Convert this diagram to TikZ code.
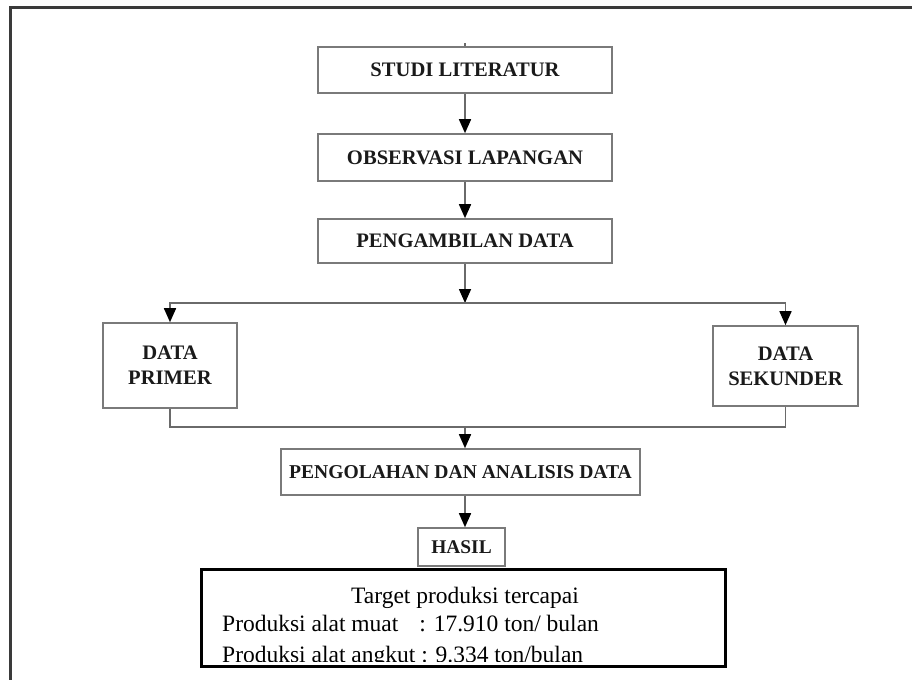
\documentclass[tikz,border=0pt]{standalone}
\usepackage{fontspec}
\setmainfont{Liberation Serif}
\usetikzlibrary{arrows.meta}
\definecolor{linegray}{HTML}{6A6A6A}
\definecolor{boxgray}{HTML}{7A7A7A}
\definecolor{framegray}{HTML}{3A3A3A}
\definecolor{txt}{HTML}{1A1A1A}
\tikzset{
  stepbox/.style={draw=boxgray, line width=1.6pt, rectangle, inner sep=0pt, text=txt,
    font=\fontsize{20.6}{25}\selectfont\bfseries, align=center},
  conn/.style={draw=linegray, line width=1.6pt},
  arr/.style={conn, -{Triangle[length=14pt,width=12pt,color=black]}},
  frameline/.style={draw=framegray, line width=3pt},
  resbox/.style={draw=black, line width=3pt, rectangle, inner sep=0pt},
  restext/.style={font=\fontsize{23.5}{28.5}\selectfont, text=black, inner sep=0pt}
}
\begin{document}
\begin{tikzpicture}[x=1pt,y=-1pt]
\useasboundingbox (0,0) rectangle (912,680);
\fill[white] (0,0) rectangle (912,680);
% outer frame (top and left edges visible)
\coordinate (fr1) at (912,7);
\coordinate (fr2) at (10,7);
\coordinate (fr3) at (10,680);
\draw[frameline] (fr1) -- (fr2) -- (fr3);

\coordinate (spine) at (465,0);

\node[stepbox, minimum width=294pt, minimum height=46pt] (s1) at (465,70) {STUDI LITERATUR};
\node[stepbox, minimum width=294pt, minimum height=47pt] (s2) at (465,157.5) {OBSERVASI LAPANGAN};
\node[stepbox, minimum width=294pt, minimum height=44pt] (s3) at (465,241) {PENGAMBILAN DATA};
\node[stepbox, minimum width=134pt, minimum height=85pt] (p) at (170,365.5) {DATA\\PRIMER};
\node[stepbox, minimum width=145pt, minimum height=80pt] (sk) at (785.5,366) {DATA\\SEKUNDER};
\node[stepbox, minimum width=359pt, minimum height=46pt, font=\fontsize{19.6}{25}\selectfont\bfseries] (s5) at (460.5,472) {PENGOLAHAN DAN ANALISIS DATA};
\node[stepbox, minimum width=87pt, minimum height=38pt, font=\fontsize{19.4}{25}\selectfont\bfseries] (h) at (461.5,547) {HASIL};

\coordinate (tick) at (465,43);
\draw[conn] (tick) -- (s1.north);
\draw[arr] (s1) -- (s2);
\draw[arr] (s2) -- (s3);

\coordinate (jtop) at (465,303);
\coordinate (jbot) at (465,427);
\draw[arr] (s3.south -| spine) -- (jtop);
\draw[arr] (jtop) -| (p.north);
\draw[arr] (jtop) -| (sk.north);
\draw[conn] (p.south) |- (jbot);
\draw[conn] (sk.south) |- (jbot);
\draw[arr] (jbot) -- (s5.north -| spine);
\draw[arr] (s5.south -| spine) -- (h.north -| spine);

% result box
\begin{scope}
  \clip (202,570) rectangle (724,661);
  \node[restext, anchor=base] (t1) at (465,603) {Target produksi tercapai};
  \node[restext, anchor=base west] (t2) at (222,631) {Produksi alat muat\hspace{21pt}: 17.910 ton/ bulan};
  \node[restext, anchor=base west] (t3) at (222,662) {Produksi alat angkut : 9.334 ton/bulan};
\end{scope}
\node[resbox, minimum width=524pt, minimum height=97pt] (res) at (463,617.5) {};
\end{tikzpicture}
\end{document}
